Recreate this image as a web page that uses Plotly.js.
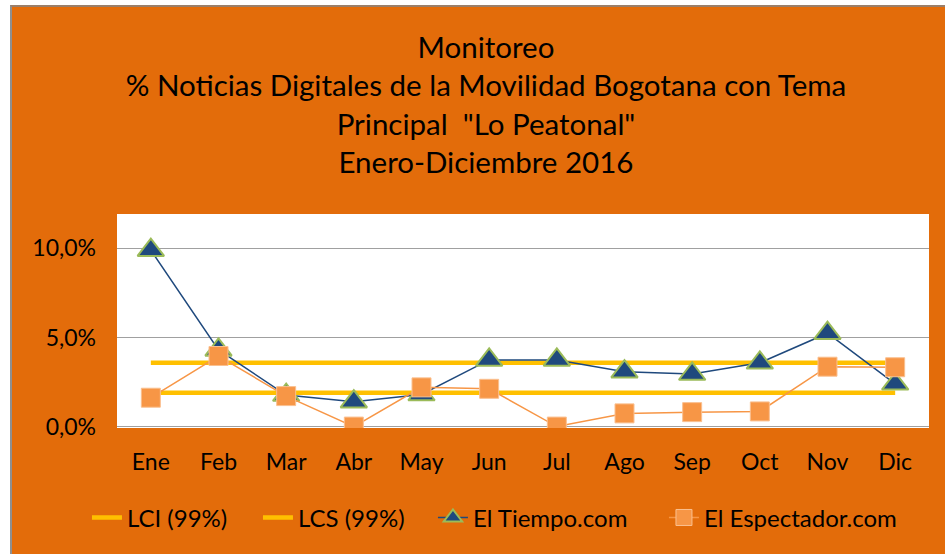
<!DOCTYPE html>
<html><head><meta charset="utf-8">
<script src="https://cdn.plot.ly/plotly-3.0.1.min.js"></script>
<style>
html,body{margin:0;padding:0;background:#fff;}
#wrap{position:absolute;left:10px;top:5px;width:935px;height:549px;border-left:2px solid #8f8f8f;border-top:2px solid #9a7f6a;background:#E36C0A;}
#chart{width:933px;height:547px;}
</style></head>
<body><div id="wrap"><div id="chart"></div></div>
<script>
const months = ["Ene","Feb","Mar","Abr","May","Jun","Jul","Ago","Sep","Oct","Nov","Dic"];
const lci = [0.019,0.019,0.019,0.019,0.019,0.019,0.019,0.019,0.019,0.019,0.019,0.019];
const lcs = [0.0358,0.0358,0.0358,0.0358,0.0358,0.0358,0.0358,0.0358,0.0358,0.0358,0.0358,0.0358];
const elTiempo = [0.099,0.043,0.0177,0.014,0.018,0.0374,0.0374,0.0308,0.0295,0.0358,0.0524,0.024];
const elEspectador = [0.0162,0.0396,0.0171,0.0,0.022,0.0212,0.0,0.0074,0.0081,0.0085,0.0336,0.0333];
const seriesNames = ["LCI (99%)","LCS (99%)","El Tiempo.com","El Espectador.com"];
const titleText = "Monitoreo<br>% Noticias Digitales de la Movilidad Bogotana con Tema<br>Principal  \"Lo Peatonal\"<br>Enero-Diciembre 2016";

const font = "Lato, 'Open Sans', sans-serif";
const traces = [
  {x: months, y: lci, name: seriesNames[0], legend:'legend', type:'scatter', mode:'lines', line:{color:'#FFC000', width:4.5}},
  {x: months, y: lcs, name: seriesNames[1], legend:'legend2', type:'scatter', mode:'lines', line:{color:'#FFC000', width:4.5}},
  {x: months, y: elTiempo, name: seriesNames[2], legend:'legend3', type:'scatter', mode:'lines+markers', line:{color:'#1F497D', width:1.5},
   marker:{symbol:'triangle-up', size:23, color:'#1F497D', line:{color:'#9BBB59', width:2}}},
  {x: months, y: elEspectador, name: seriesNames[3], legend:'legend4', type:'scatter', mode:'lines+markers', line:{color:'#F79646', width:1.5},
   marker:{symbol:'square', size:19, color:'#F79646', line:{color:'#FAC090', width:1}}}
];
function leg(x){
  return {orientation:'h', x:x, xanchor:'left', y:-0.42, yanchor:'middle', bgcolor:'rgba(0,0,0,0)',
          font:{size:24, family:font}, itemwidth:30};
}
const layout = {
  width:933, height:547,
  paper_bgcolor:'#E36C0A', plot_bgcolor:'#FFFFFF',
  margin:{l:105, r:16, t:207, b:126},
  separators:',.',
  font:{family:font, color:'#000', size:23},
  title:{text:titleText, font:{family:font, size:29.5, color:'#000'}, x:0.508, xanchor:'center', xref:'container',
         y:0.907, yref:'container', yanchor:'middle'},
  xaxis:{type:'category', range:[-0.5,11.5], showgrid:false, zeroline:false, showline:false, ticks:'',
         tickfont:{size:23, family:font}, ticklabelstandoff:18},
  yaxis:{range:[-0.0008,0.1193], tickvals:[0,0.05,0.1], tickformat:'.1%', showgrid:true, gridcolor:'#A0A0A0', gridwidth:1.5,
         zeroline:true, zerolinecolor:'#A0A0A0', zerolinewidth:1.5, showline:false, ticks:'',
         tickfont:{size:23, family:font}, ticklabelstandoff:20},
  showlegend:true,
  legend:leg(-0.0370),
  legend2:leg(0.1736),
  legend3:leg(0.3891),
  legend4:leg(0.6736)
};
Plotly.newPlot('chart', traces, layout, {displayModeBar:false, staticPlot:true});
</script></body></html>
